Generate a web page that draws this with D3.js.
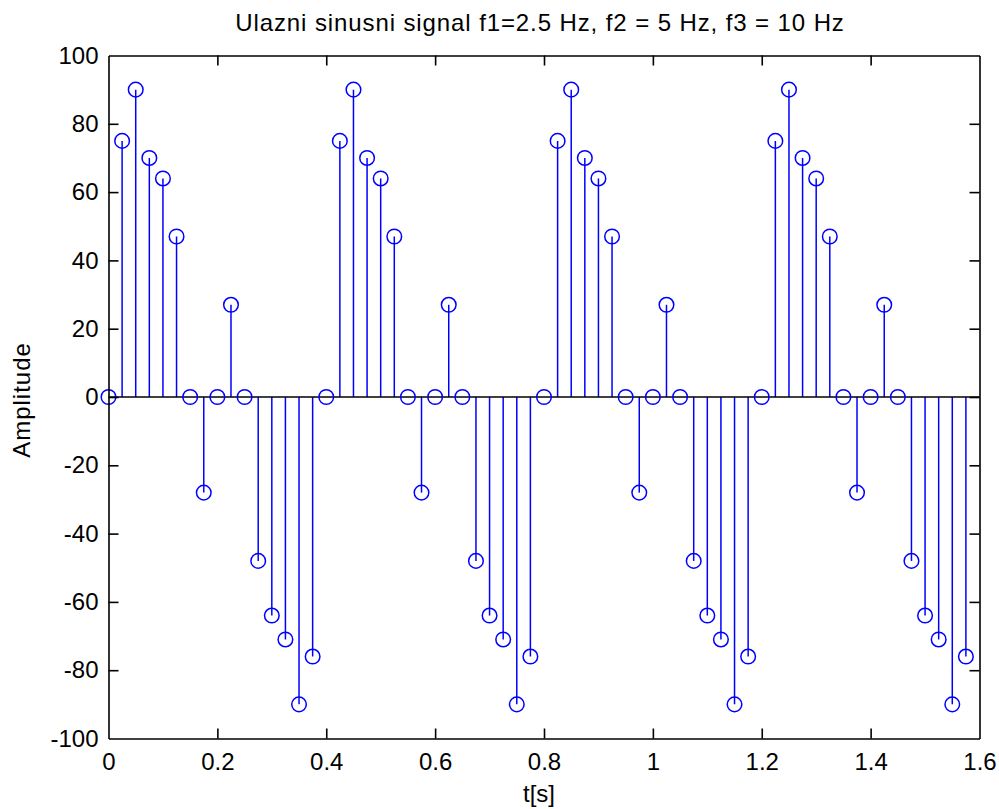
<!DOCTYPE html>
<html>
<head>
    <meta charset="utf-8">
    <title>Ulazni sinusni signal</title>
    <script type="text/javascript" src="https://cdn.jsdelivr.net/npm/d3@7"></script>
    <style>
      body { margin: 0; background: #fff; }
      text { font-family: "Liberation Sans", Arial, sans-serif; fill: #000; }
    </style>
</head>
<body>
<script type="text/javascript">

// sample times (s)
var times = [0, 0.025, 0.05, 0.075, 0.1, 0.125, 0.15, 0.175, 0.2, 0.225, 0.25, 0.275, 0.3, 0.325, 0.35, 0.375,
             0.4, 0.425, 0.45, 0.475, 0.5, 0.525, 0.55, 0.575, 0.6, 0.625, 0.65, 0.675, 0.7, 0.725, 0.75, 0.775,
             0.8, 0.825, 0.85, 0.875, 0.9, 0.925, 0.95, 0.975, 1.0, 1.025, 1.05, 1.075, 1.1, 1.125, 1.15, 1.175,
             1.2, 1.225, 1.25, 1.275, 1.3, 1.325, 1.35, 1.375, 1.4, 1.425, 1.45, 1.475, 1.5, 1.525, 1.55, 1.575]

// amplitudes
var amplitudes = [0, 75, 90, 70, 64, 47, 0, -28, 0, 27, 0, -48, -64, -71, -90, -76,
                  0, 75, 90, 70, 64, 47, 0, -28, 0, 27, 0, -48, -64, -71, -90, -76,
                  0, 75, 90, 70, 64, 47, 0, -28, 0, 27, 0, -48, -64, -71, -90, -76,
                  0, 75, 90, 70, 64, 47, 0, -28, 0, 27, 0, -48, -64, -71, -90, -76]

var xTicks = [0, 0.2, 0.4, 0.6, 0.8, 1, 1.2, 1.4, 1.6]
var yTicks = [-100, -80, -60, -40, -20, 0, 20, 40, 60, 80, 100]

var title = "Ulazni sinusni signal f1=2.5 Hz, f2 = 5 Hz, f3 = 10 Hz"
var xLabel = "t[s]"
var yLabel = "Amplitude"

stemPlot()

function stemPlot(){
    var w = 999, h = 809
    var left = 108.5, right = 979.5, top = 55.5, bottom = 738.5
    var tickLen = 10
    var fs = 24

    var svg = d3.select("body").append("svg").attr("width", w).attr("height", h)
    svg.append("rect").attr("width", w).attr("height", h).attr("fill", "#fff")

    var x = d3.scaleLinear().domain([0, 1.6]).range([left, right])
    var y = d3.scaleLinear().domain([-100, 100]).range([bottom, top])

    var data = times.map(function(t, i){ return {t: t, v: amplitudes[i]} })

    // stems
    svg.selectAll(".stem").data(data).enter().append("line")
        .attr("class", "stem")
        .attr("x1", function(d){ return x(d.t) })
        .attr("x2", function(d){ return x(d.t) })
        .attr("y1", y(0))
        .attr("y2", function(d){ return y(d.v) })
        .attr("stroke", "#0000ff")
        .attr("stroke-width", 1.5)

    // baseline
    svg.append("line")
        .attr("x1", x(0)).attr("x2", x(1.6))
        .attr("y1", y(0)).attr("y2", y(0))
        .attr("stroke", "#000").attr("stroke-width", 1.6)

    // markers
    svg.selectAll(".mark").data(data).enter().append("circle")
        .attr("class", "mark")
        .attr("cx", function(d){ return x(d.t) })
        .attr("cy", function(d){ return y(d.v) })
        .attr("r", 7.3)
        .attr("fill", "none")
        .attr("stroke", "#0000ff")
        .attr("stroke-width", 1.5)

    // axes, ticks inside on every side
    var fmt = function(d){ return String(d) }
    var bottomAx = d3.axisBottom(x).tickValues(xTicks).tickSizeInner(-tickLen).tickSizeOuter(0)
        .tickPadding(14).tickFormat(fmt)
    var topAx = d3.axisTop(x).tickValues(xTicks).tickSizeInner(-tickLen).tickSizeOuter(0).tickFormat("")
    var leftAx = d3.axisLeft(y).tickValues(yTicks).tickSizeInner(-tickLen).tickSizeOuter(0)
        .tickPadding(10).tickFormat(fmt)
    var rightAx = d3.axisRight(y).tickValues(yTicks).tickSizeInner(-tickLen).tickSizeOuter(0).tickFormat("")

    var gB = svg.append("g").attr("transform", "translate(0," + bottom + ")").call(bottomAx)
    var gT = svg.append("g").attr("transform", "translate(0," + top + ")").call(topAx)
    var gL = svg.append("g").attr("transform", "translate(" + left + ",0)").call(leftAx)
    var gR = svg.append("g").attr("transform", "translate(" + right + ",0)").call(rightAx)

    ;[gB, gT, gL, gR].forEach(function(g){
        g.select(".domain").attr("stroke", "#000").attr("stroke-width", 1.6)
        g.selectAll(".tick line").attr("stroke", "#000").attr("stroke-width", 1.6)
        g.selectAll(".tick text").attr("font-size", fs).attr("fill", "#000")
            .attr("font-family", "'Liberation Sans', Arial, sans-serif")
    })
    // MATLAB hides the ticks at the box corners
    gB.selectAll(".tick line").filter(function(d){ return d === 0 || d === 1.6 }).remove()
    gT.selectAll(".tick line").filter(function(d){ return d === 0 || d === 1.6 }).remove()
    gL.selectAll(".tick line").filter(function(d){ return d === -100 || d === 100 }).remove()
    gR.selectAll(".tick line").filter(function(d){ return d === -100 || d === 100 }).remove()

    // title and labels
    svg.append("text").attr("x", (left + right) / 2 - 4).attr("y", 31)
        .attr("text-anchor", "middle").attr("font-size", fs)
        .attr("letter-spacing", 0.9).text(title)
    svg.append("text").attr("x", (left + right) / 2 - 5).attr("y", 802)
        .attr("text-anchor", "middle").attr("font-size", fs).text(xLabel)
    svg.append("text")
        .attr("transform", "translate(30," + ((bottom + top) / 2 + 3) + ") rotate(-90)")
        .attr("text-anchor", "middle").attr("font-size", fs)
        .attr("letter-spacing", 1).text(yLabel)
}

</script>
</body>
</html>
